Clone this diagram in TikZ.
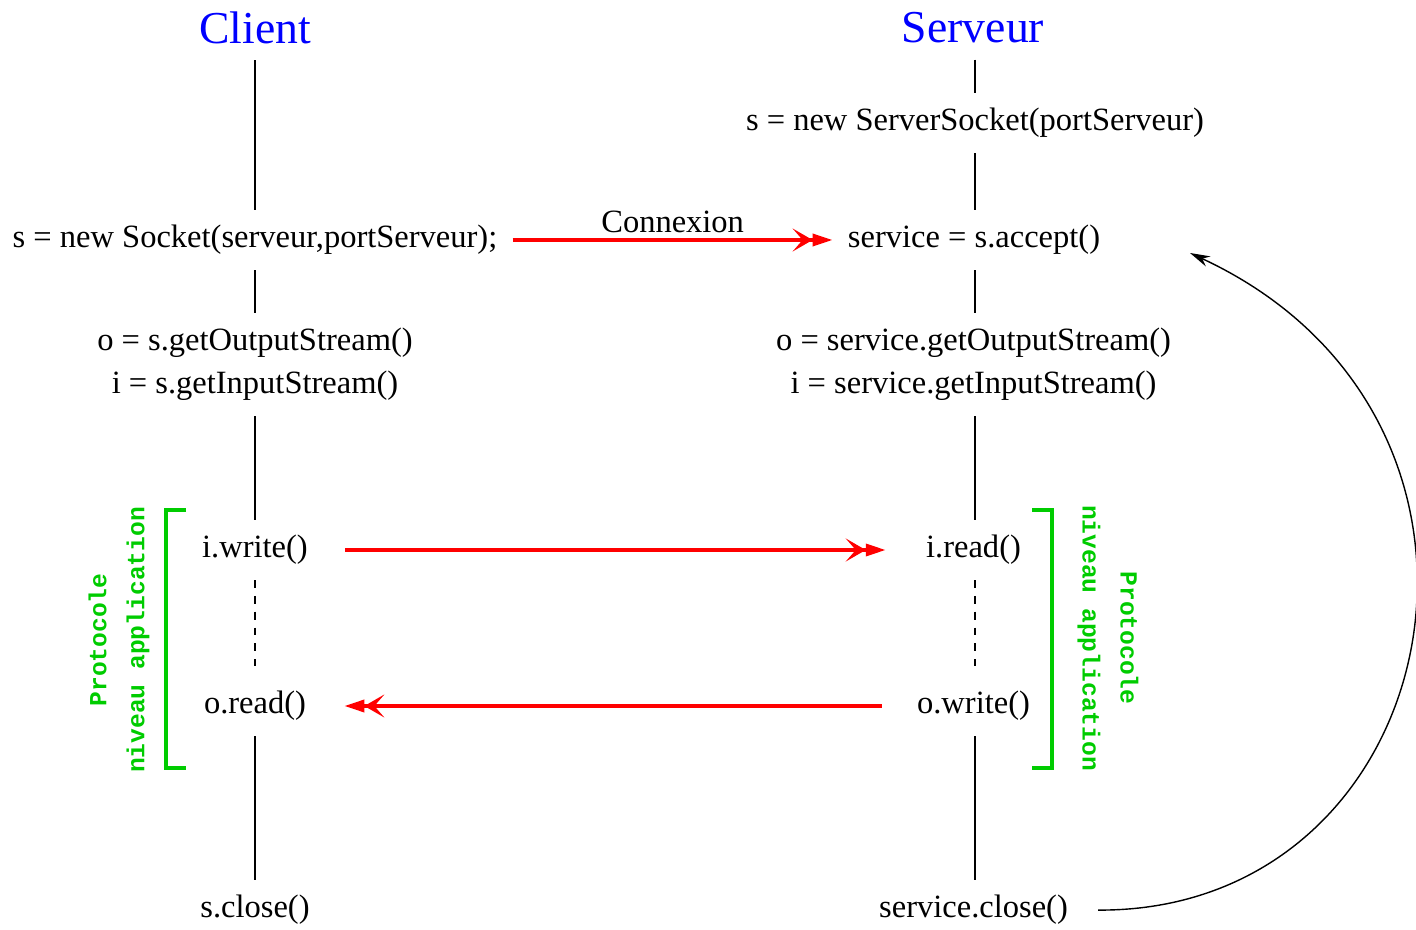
\documentclass[tikz,border=0pt]{standalone}
\usepackage{fontspec}
\setmainfont{Liberation Serif}
\setmonofont{Liberation Mono}
\usepackage{xcolor}
\definecolor{protogreen}{RGB}{0,204,0}
\usetikzlibrary{arrows.meta}

\begin{document}
\begin{tikzpicture}[
          title/.style={
              font=\fontsize{26}{30}\selectfont,
              text=blue
            },
          instr/.style={
              font=\fontsize{18.5}{24.4}\selectfont,
              align=center,
              inner sep=0.3cm
            },
          protolbl/.style={
              font=\ttfamily\bfseries\fontsize{14}{21.6}\selectfont,
              text=protogreen,
              align=center
            },
          life/.style={line width=1pt},
          idle/.style={line width=1pt, dash pattern=on 4.5pt off 4.5pt},
          msg/.style={-{Stealth[length=4mm,width=4.6mm,inset=2mm]Triangle[length=4mm,width=2.4mm]}, red, line width=2pt},
          bracket/.style={draw=protogreen, line width=1.8pt},
          back/.style={-{Stealth[length=4mm,width=2.2mm]}, line width=0.8pt}
        ]
        \useasboundingbox (0,0) rectangle (28.32,-18.6);

        % client side
        \node[title] (client) at (5.1,-0.56) {Client};
        \node[instr] (socket) at (5.1,-4.8) {s = new Socket(serveur,portServeur);};
        \node[instr] (cstreams) at (5.1,-7.29) {o = s.getOutputStream()\\i = s.getInputStream()};
        \node[instr] (cwrite) at (5.1,-11.0) {i.write()};
        \node[instr] (cread) at (5.1,-14.12) {o.read()};
        \node[instr] (cclose) at (5.1,-18.2) {s.close()};

        % server side
        \node[title] (server) at (19.46,-0.56) {Serveur};
        \node[instr] (listen) at (19.5,-2.46) {s = new ServerSocket(portServeur)};
        \node[instr] (accept) at (19.48,-4.8) {service = s.accept()};
        \node[instr] (sstreams) at (19.47,-7.29) {o = service.getOutputStream()\\i = service.getInputStream()};
        \node[instr] (sread) at (19.47,-11.0) {i.read()};
        \node[instr] (swrite) at (19.47,-14.12) {o.write()};
        \node[instr] (sclose) at (19.47,-18.2) {service.close()};

        \draw[life, shorten <=0.2cm] (client) -- (socket);
        \draw[life] (socket) -- (cstreams);
        \draw[life] (cstreams) -- (cwrite);
        \draw[idle, shorten >=0.2cm] (cwrite) -- (cread);
        \draw[life] (cread) -- (cclose);

        \draw[life, shorten <=0.2cm] (server.south -| listen) -- (listen);
        \draw[life] (listen) -- (accept.north -| listen);
        \draw[life] (accept.south -| listen) -- (sstreams.north -| listen);
        \draw[life] (sstreams.south -| listen) -- (sread.north -| listen);
        \draw[idle, shorten >=0.2cm] (sread.south -| listen) -- (swrite.north -| listen);
        \draw[life] (swrite.south -| listen) -- (sclose.north -| listen);

        % messages
        \draw[msg] (socket.east) -- node[instr, above, inner sep=0.1cm, text=black] (conn) {Connexion} (accept.west);
        \draw[msg, shorten <=0.44cm, shorten >=0.5cm] (cwrite.east) -- (sread.west);
        \draw[msg, shorten <=0.4cm, shorten >=0.46cm] (swrite.west) -- (cread.east);

        % application protocol
        \draw[bracket] (3.72,-10.2) -- (3.32,-10.2) -- (3.32,-15.36) -- (3.72,-15.36);
        \draw[bracket] (20.64,-10.2) -- (21.04,-10.2) -- (21.04,-15.36) -- (20.64,-15.36);
        \node[protolbl, rotate=90] (lproto) at (2.38,-12.8) {Protocole\\niveau application};
        \node[protolbl, rotate=-90] (rproto) at (22.16,-12.76) {Protocole\\niveau application};

        % next client
        \coordinate (again) at (23.8,-5.06);
        \draw[back, shorten <=0.3cm] (sclose.east) .. controls (28.96,-18.24) and (31,-8.4) .. (again);
      \end{tikzpicture}
\end{document}
